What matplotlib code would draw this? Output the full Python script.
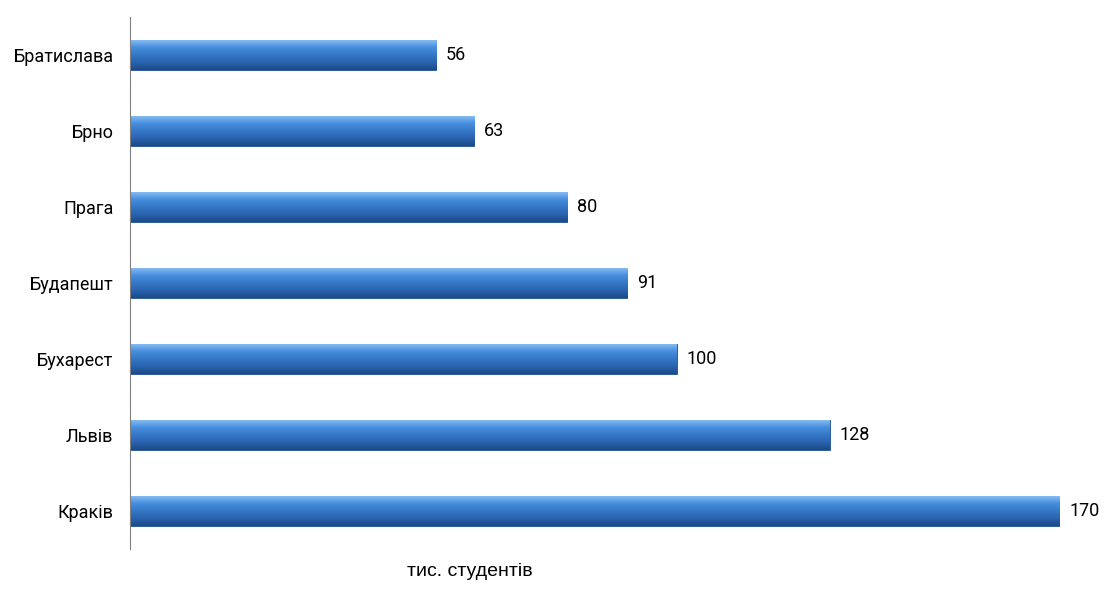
import numpy as np
import matplotlib.pyplot as plt
from matplotlib.colors import LinearSegmentedColormap

# Data
cities = ["Братислава", "Брно", "Прага", "Будапешт", "Бухарест", "Львів", "Краків"]
students = [56, 63, 80, 91, 100, 128, 170]

narrow = ["Roboto", "DejaVu Sans"]

fig = plt.figure(figsize=(11.06, 5.94), dpi=100)
ax = fig.add_axes([0.1175, 0.0758, 0.865, 0.8956])

y = np.arange(len(cities))
bars = ax.barh(y, students, height=0.4, color="#3a7fd0", edgecolor="#1d4f8f", linewidth=0.6)

# vertical gradient on each bar (light top, dark bottom)
cmap = LinearSegmentedColormap.from_list("bar", ["#8cc0f2", "#4a90e0", "#3578c8", "#2a64b0", "#1c4a85"])
grad = np.linspace(0, 1, 64).reshape(-1, 1)
for b in bars:
    x0, y0 = b.get_x(), b.get_y()
    w, h = b.get_width(), b.get_height()
    im = ax.imshow(grad, cmap=cmap, aspect="auto", origin="upper",
                   extent=[x0, x0 + w, y0 + h, y0], zorder=2)
    im.set_clip_path(b)

for yi, v in zip(y, students):
    ax.text(v + 1.8, yi, str(v), va="center", ha="left", fontsize=13, family=narrow)

ax.set_xlim(0, 175)
ax.set_ylim(len(cities) - 0.5, -0.5)
ax.set_yticks(y)
ax.set_yticklabels(cities, fontsize=13, family=narrow)
ax.tick_params(axis="y", length=0, pad=12)
ax.set_xticks([])
for s in ["top", "right", "bottom"]:
    ax.spines[s].set_visible(False)
ax.spines["left"].set_color("#808080")

fig.text(0.425, 0.024, "тис. студентів", fontsize=14, family=["Liberation Sans", "DejaVu Sans"],
         ha="center", va="bottom")

fig.savefig("out.png", dpi=100)
